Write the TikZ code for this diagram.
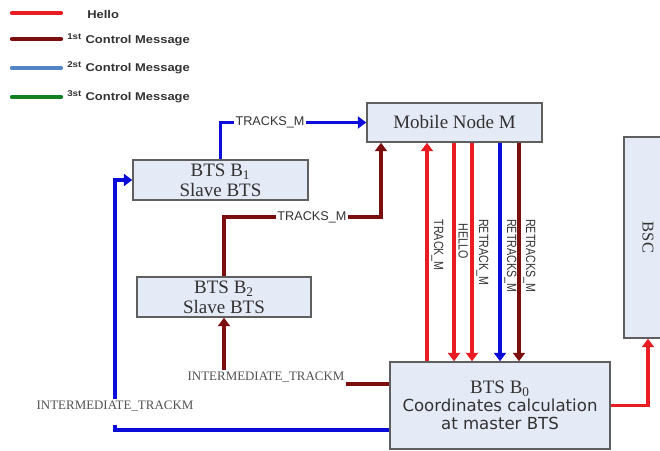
\documentclass[tikz,border=0pt]{standalone}
\usepackage{fontspec}
\setmainfont{Liberation Serif}
\setsansfont{Liberation Sans}
\newfontfamily\dejavu{DejaVu Sans}
\newfontfamily\narrowsans[FakeStretch=0.8]{Liberation Sans}
\newfontfamily\legfont[FakeStretch=1.15]{Liberation Sans}
\usepackage{xcolor}
\usepackage{tikz}
\usetikzlibrary{arrows.meta, positioning, calc}
\definecolor{hellored}{RGB}{232,28,34}
\definecolor{ctrlred}{RGB}{125,14,14}
\definecolor{ctrlblue}{RGB}{12,12,218}
\definecolor{legblue}{RGB}{82,132,198}
\definecolor{leggreen}{RGB}{16,128,32}
\definecolor{borda}{RGB}{95,95,95}
\definecolor{fundo}{RGB}{228,234,246}
\definecolor{texto}{RGB}{50,50,50}

\begin{document}
\begin{tikzpicture}[x=0.025cm, y=-0.025cm,
    bloco/.style={draw=borda, fill=fundo, line width=1pt, align=center, inner sep=1pt, text=texto},
    hello/.style={-{Triangle[length=6pt,width=8.5pt]}, line width=2.3pt, hellored},
    ctrlA/.style={-{Triangle[length=6pt,width=8.5pt]}, line width=2.3pt, ctrlred},
    ctrlB/.style={-{Triangle[length=6pt,width=8.5pt]}, line width=2.3pt, ctrlblue},
    rotulo/.style={font=\sffamily\fontsize{9}{10}\selectfont, text=texto, fill=white, inner sep=1pt},
    rotuloV/.style={font=\narrowsans\fontsize{9.5}{10}\selectfont, text=texto, rotate=-90, anchor=south west, inner sep=2pt},
    rotuloS/.style={font=\fontsize{9.2}{10}\selectfont, text=texto!85, inner sep=1pt},
    legenda/.style={line width=3pt, line cap=round},
    legtexto/.style={font=\legfont\bfseries\fontsize{8}{9}\selectfont, anchor=west, inner sep=0pt, text=texto}
  ]
    \clip (0,0) rectangle (660,450);

    \draw[legenda, hellored] (12,13) -- (61,13);
    \draw[legenda, ctrlred] (12,39) -- (61,39);
    \draw[legenda, legblue] (12,68) -- (61,68);
    \draw[legenda, leggreen] (12,97) -- (61,97);
    \node[legtexto] (leg1) at (87,14) {Hello};
    \node[legtexto] (leg2) at (67,40) {\textsuperscript{1st} Control Message};
    \node[legtexto] (leg3) at (67,68) {\textsuperscript{2st} Control Message};
    \node[legtexto] (leg4) at (67,97) {\textsuperscript{3st} Control Message};

    \node[bloco, minimum width=4.375cm, minimum height=0.975cm, font=\fontsize{13.5}{15}\selectfont] (movel) at (454.5,122.5) {Mobile Node M};
    \node[bloco, minimum width=4.375cm, minimum height=1cm, font=\fontsize{13.5}{14}\selectfont] (b1) at (220.5,180) {BTS B\textsubscript{1}\\Slave BTS};
    \node[bloco, minimum width=4.35cm, minimum height=1cm, font=\fontsize{13.5}{14}\selectfont] (b2) at (224,297) {BTS B\textsubscript{2}\\Slave BTS};
    \node[bloco, minimum width=5.5cm, minimum height=2.175cm, font=\fontsize{13.5}{13}\selectfont] (b0) at (500,405.5) {BTS B\textsubscript{0}\\{\dejavu\fontsize{11.8}{13}\selectfont Coordinates calculation}\\{\dejavu\fontsize{11.8}{13}\selectfont at master BTS}};
    \node[bloco, rotate=-90, minimum width=5.025cm, minimum height=1.2cm, font=\fontsize{11.7}{12}\selectfont] (bsc) at (648,237.5) {BSC};

    \draw[ctrlB] (b1.north) |- node[rotulo, pos=0.67] {TRACKS\_M} (movel.west);
    \coordinate (dobra) at (381,217);
    \draw[ctrlA] (b2.north) |- node[rotulo, pos=0.78] {TRACKS\_M} (dobra) -- (dobra |- movel.south);

    \node[rotuloS] (interB2) at (266,377) {INTERMEDIATE\_TRACKM};
    \draw[ctrlA, -] (b0.west |- 0,384) -- (interB2.east |- 0,384);
    \draw[ctrlA] (b2.south |- interB2.north) -- (b2.south);

    \node[rotuloS] (interB1) at (115,406) {INTERMEDIATE\_TRACKM};
    \draw[ctrlB, -] (b0.west |- 0,430) -| ([yshift=-9pt]interB1.south);
    \draw[ctrlB] (interB1.north) |- (b1.west);

    \draw[hello] (b0.east) -| (bsc.east);

    \draw[hello] (b0.north -| 427,0) -- node[rotuloV, pos=0.668] {TRACK\_M} (movel.south -| 427,0);
    \draw[hello] (movel.south -| 454,0) -- node[rotuloV, pos=0.35] {HELLO} (b0.north -| 454,0);
    \draw[hello] (movel.south -| 472,0) -- node[rotuloV, pos=0.33] {RETRACK\_M} (b0.north -| 472,0);
    \draw[ctrlB] (movel.south -| 500,0) -- node[rotuloV, pos=0.33] {RETRACKS\_M} (b0.north -| 500,0);
    \draw[ctrlA] (movel.south -| 519,0) -- node[rotuloV, pos=0.33] {RETRACKS\_M} (b0.north -| 519,0);
  \end{tikzpicture}
\end{document}
